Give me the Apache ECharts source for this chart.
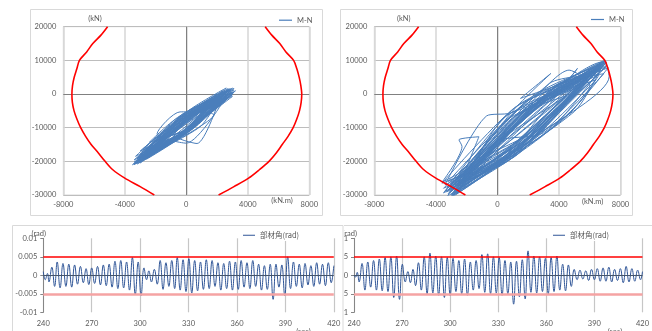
<!DOCTYPE html>
<html><head><meta charset="utf-8">
<script src="https://cdn.jsdelivr.net/npm/echarts@6/dist/echarts.min.js"></script>
<style>
html,body{margin:0;padding:0;background:#fff;width:652px;height:331px;overflow:hidden}
#main,#br{position:absolute;left:0;top:0;width:652px;height:331px}
#br{clip-path:inset(0 0 0 344px)}
</style></head>
<body><div id="main"></div><div id="br"></div>
<script>
// ---------- M-N interaction curve (same in both M-N charts) ----------
const curveN      = [20000,17500,15000,12500,10000,7500,5000,2500,0,-2500,-5000,-7500,-10000,-12500,-15000,-17500,-20000,-22500,-25000,-27500,-30000];
const curveLeftM  = [-5120,-5550,-6080,-6480,-6950,-7120,-7290,-7400,-7440,-7410,-7300,-7110,-6870,-6560,-6190,-5720,-5280,-4780,-4000,-3000,-2080];
const curveRightM = [5130,5560,6080,6480,6980,7190,7340,7450,7510,7470,7360,7180,6950,6630,6240,5850,5380,4750,4050,3100,2100];

// ---------- M-N hysteresis, left chart (kN.m / kN) ----------
const mnLeftM = [0,
  2000,400,-2400,-200,  2800,0,-3000,400,  3100,1000,-3400,-600,  2400,-200,-2000,200,
  2600,600,-3200,-400,  1800,-600,-2800,0,  3000,800,-3500,-800,  2200,200,-2600,-300,
  2800,400,-3000,600,  1600,-400,-2200,100,  3200,1200,-3300,-500,  2500,300,-2900,-100,
  2000,-300,-1900,300,  2900,700,-3100,-700,  2300,100,-2700,200,  2700,500,-3400,-200,
  1400,-800,-2400,0,  3000,1400,-3200,-400,  2600,-100,-2500,700,  2100,300,-3000,-900,
  2900,900,-2000,-100,  1800,-500,-3300,400,  3100,1100,-2800,-300,  2400,0,-2300,-600,
  1800,-400,-1900,0,  2600,900,-800,700,  2200,900,-2600,-1200,  2700,600,-3100,-200,
  2000,-200,-2600,500,  3000,1300,-3400,-700,  2300,400,-2100,-300,  2800,100,-2900,300,
  1700,-700,-3200,-500,  3100,1000,-2500,100,  2500,200,-3000,-800,  2900,800,-2700,400,
  2100,-100,-3300,-400,  2600,600,-2300,200,  3000,1100,-3100,-600,  2400,0,-2800,0,
  2700,500,-3200,-300,  2200,-300,-2500,300,  3000,1000,-3000,-600,  1900,100,-2200,0,
  2800,700,-3400,-200,  2500,300,-2700,0];
const mnLeftN = [-8800,
  -1400,-5500,-17900,-11700,  -760,-6200,-17800,-10100,  1700,-4000,-20800,-13200,  900,-6500,-13900,-10100,
  -1700,-5800,-20800,-12700,  -1400,-7600,-16200,-11200,  500,-4400,-21000,-13400,  -3300,-6900,-19400,-12600,
  1300,-4700,-16900,-9400,  -1700,-6500,-16900,-10700,  960,-4000,-20700,-12500,  650,-5600,-17200,-11700,
  -3400,-7400,-12900,-10400,  1200,-4900,-20500,-13300,  -2000,-5900,-17200,-10900,  1600,-4700,-19600,-12000,
  -2800,-7800,-14300,-10600,  -700,-3900,-19200,-12900,  1800,-5800,-18900,-9300,  -1700,-6300,-20500,-13600,
  500,-3900,-16200,-11400,  -3500,-7600,-18500,-9900,  1300,-4000,-19000,-12400,  -1900,-6800,-15400,-13600,
  -6200,-5300,-11800,-14600,  -800,-6000,-12200,-14700,  -1000,-9700,-18500,-14600,  -1300,-5300,-19700,-11200,
  -200,-6200,-16400,-9800,  1800,-3000,-21000,-12900,  -2600,-6600,-17500,-11900,  0,-6400,-18800,-10200,
  -1500,-7400,-20100,-12800,  500,-4600,-17600,-10900,  -1200,-6100,-19300,-13000,  1500,-4200,-16800,-10300,
  -2400,-7000,-20300,-12300,  700,-5000,-17800,-10500,  -200,-4800,-18600,-12600,  1000,-6000,-19800,-9500,
  1100,-5000,-19000,-12000,  -600,-6400,-18800,-10800,  300,-4900,-20000,-13100,  -2500,-7200,-15600,-11800,
  1600,-4500,-20300,-11000,  -2200,-6800,-18000,-8800];

// ---------- M-N hysteresis, right chart (kN.m / kN) ----------
const mnRightM = [0,
  4500,1000,-2000,1500,  5500,1500,-2800,500,  6200,2500,-3200,300,  6800,3000,-3000,1200,  6500,2000,-2500,0,
  5000,800,-700,-3400,1500,  7000,3500,-2700,800,
  6000,1500,3470,1000,-2200,-1200,-2500,-2300,-3600,2000,
  6700,2800,-3000,1200,  5800,2000,-2400,0,3800,  6000,4660,2200,-3300,1800,  7100,3200,-2800,500,
  5200,4400,1000,-3600,1200,  6400,2500,-2100,800,  5600,1800,-2600,2500,  7260,6900,3000,-3100,1500,
  6600,3500,-2500,600,  5900,2000,-2900,2200,  6300,3000,-1800,0,  6800,3600,-2800,900,
  6100,2600,-3200,1400,  7000,3300,-2600,700,  5700,2200,-3500,1700,  6900,3100,-2300,300,
  5300,1600,-3000,2400,  7050,3400,-2700,1000,  6300,2700,-3300,1900,  6600,3000,-2400,500,
  5500,1800,-3100,1300,  6800,3200,-2900,2100,  6200,2400,-2600,800,  5900,2000,-3400,1600,
  7100,3500,-2200,0,  4800,500,-1500,1800,  6500,2800,-3200,1000,  7000,3800,-2800,1400,
  5400,1200,-2500,2600,  6700,3300,-3000,0,
  3000,6900,3800,-3000,  4200,7200,2900,-2600,  5000,6800,1200,-3500,  2500,6400,500,-2300,
  3600,7000,2300,-3200,  4500,6600,3400,-2900,  0];
const mnRightN = [-14000,
  -500,-7000,-23000,-13500,  3000,-4000,-26500,-17500,  5500,-2000,-28500,-20000,  9000,300,-30000,-16000,  7000,-4500,-25000,-19500,
  2000,-5700,-6500,-27000,-14500,  10100,1000,-29800,-18500,
  6000,-1300,6100,-5000,-24000,-12700,-13600,-15600,-26200,-12000,
  8000,-1500,-28000,-17600,  4500,-3500,-24500,-21600,-9200,  2500,7100,-2500,-30500,-15000,  8500,-500,-27000,-18500,
  7600,3500,-4500,-26500,-16500,  6500,-3000,-23000,-14000,  4000,-5000,-28500,-12500,  5150,9600,-1500,-29000,-15800,
  8800,0,-26000,-19000,  5800,-6000,-30200,-13800,  7200,-2500,-21000,-15500,  9400,1500,-28800,-18000,
  6400,-4000,-29600,-13500,  9800,-800,-27200,-16500,  4800,-3500,-28000,-15500,  9000,-2000,-25000,-19000,
  3400,-5500,-30400,-11500,  8000,1000,-28300,-17200,  6900,-2500,-29100,-14500,  7800,-3500,-26400,-17000,
  3900,-2500,-27500,-18000,  8700,-1000,-29300,-13000,  6200,-5000,-26700,-19500,  5200,-2000,-28900,-15000,
  9500,500,-24600,-17000,  1500,-8000,-19500,-12500,  5500,-3000,-27800,-16000,  8900,-500,-29500,-17500,
  2200,-6500,-25800,-11000,  9200,-1500,-26800,-14000,
  -11500,6000,2500,-30800,  -7800,7800,-1200,-29000,  -5200,8200,-3800,-29400,  -13000,4200,-6800,-27500,
  -9800,9200,-600,-26000,  -6500,5600,3200,-27200,  -14000];

// ---------- 部材角 time histories (sec / rad) ----------
const thLeftT = [240.0,241.2,242.6,243.5,245.3,247.0,248.6,250.4,252.2,254.0,255.8,257.6,259.4,261.2,263.0,264.8,266.5,268.2,270.0,271.8,273.6,275.4,277.2,279.0,280.8,282.6,284.4,286.2,288.0,289.8,291.6,293.4,295.2,297.0,298.8,300.6,302.4,304.0,305.4,307.0,308.8,310.6,312.4,314.2,316.0,317.8,319.6,321.4,323.0,324.8,326.6,328.4,330.2,332.0,333.8,335.6,337.4,339.2,341.0,342.8,344.6,346.4,348.2,350.0,351.8,353.6,355.4,357.2,359.0,360.8,362.6,364.4,366.2,368.0,369.8,371.6,373.4,375.2,377.0,378.8,380.6,382.4,384.2,386.0,387.8,389.6,391.4,393.2,395.0,396.8,398.6,400.4,402.2,404.0,405.8,407.6,409.4,411.2,413.0,414.8,416.6,418.4,420.0];
const thLeftV = [0.0010,-0.0012,0.0005,-0.0018,0.0022,-0.0030,0.0036,-0.0034,0.0032,-0.0030,0.0030,-0.0032,0.0028,-0.0024,0.0024,-0.0020,0.0018,-0.0025,0.0020,-0.0022,0.0024,-0.0026,0.0028,-0.0028,0.0030,-0.0032,0.0038,-0.0036,0.0040,-0.0034,0.0036,-0.0040,0.0048,-0.0052,0.0036,-0.0055,0.0020,-0.0012,0.0012,-0.0018,0.0016,-0.0024,0.0040,-0.0038,0.0034,-0.0030,0.0040,-0.0036,0.0048,-0.0040,0.0042,-0.0044,0.0045,-0.0048,0.0040,-0.0042,0.0036,-0.0038,0.0042,-0.0036,0.0040,-0.0030,0.0034,-0.0040,0.0032,-0.0036,0.0038,-0.0040,0.0036,-0.0038,0.0040,-0.0032,0.0034,-0.0036,0.0040,-0.0030,0.0030,-0.0040,0.0026,-0.0038,0.0030,-0.0065,0.0030,-0.0032,0.0028,-0.0055,0.0050,-0.0036,0.0036,-0.0030,0.0030,-0.0034,0.0032,-0.0026,0.0026,-0.0030,0.0034,-0.0024,0.0030,-0.0028,0.0034,-0.0020,0.0026];
const thRightT = [240.0,241.0,242.0,243.2,245.0,246.8,248.6,250.4,252.2,254.0,255.8,257.6,259.4,261.2,263.0,264.8,266.6,268.4,270.2,272.0,273.6,275.2,276.8,278.4,280.2,282.0,283.8,285.6,287.4,289.2,291.0,292.8,294.6,296.4,298.2,300.0,301.8,303.6,305.4,307.2,309.0,310.8,312.6,314.4,316.2,318.0,319.8,321.6,323.4,325.2,327.0,328.8,330.6,332.4,334.2,336.0,337.8,339.6,341.4,343.2,345.0,346.8,348.6,350.4,352.2,354.0,355.8,357.6,359.4,361.2,363.0,364.8,366.6,368.4,370.2,372.0,373.8,375.6,377.4,379.2,381.0,382.8,384.6,386.4,388.2,390.0,391.8,393.6,395.4,397.2,399.0,400.8,402.6,404.4,406.2,408.0,409.8,411.6,413.4,415.2,417.0,418.8,420.0];
const thRightV = [0.0000,-0.0005,0.0008,-0.0018,0.0032,-0.0040,0.0036,-0.0032,0.0040,-0.0040,0.0044,-0.0042,0.0048,-0.0044,0.0050,-0.0060,0.0052,-0.0065,0.0030,-0.0018,0.0010,-0.0020,0.0016,-0.0028,0.0034,-0.0040,0.0050,-0.0050,0.0060,-0.0048,0.0052,-0.0054,0.0050,-0.0060,0.0048,-0.0055,0.0046,-0.0044,0.0040,-0.0050,0.0044,-0.0054,0.0036,-0.0040,0.0040,-0.0036,0.0056,-0.0046,0.0058,-0.0050,0.0050,-0.0048,0.0048,-0.0054,0.0040,-0.0050,0.0036,-0.0078,0.0038,-0.0058,0.0042,-0.0064,0.0066,-0.0046,0.0052,-0.0048,0.0050,-0.0044,0.0046,-0.0050,0.0048,-0.0044,0.0052,-0.0040,0.0030,-0.0042,0.0028,-0.0030,0.0016,-0.0012,0.0014,-0.0010,0.0012,-0.0014,0.0016,-0.0012,0.0018,-0.0016,0.0020,-0.0016,0.0022,-0.0018,0.0016,-0.0014,0.0018,-0.0020,0.0024,-0.0018,0.0018,-0.0016,0.0014,-0.0012,0.0010];
const rotationLimits = [0.005, -0.005];

// ---------- axis scales ----------
const mScale = {min:-8000, max:8000, interval:4000};
const nScale = {min:-30000, max:20000, interval:10000};
const tScale = {min:240, max:420, interval:30};
const rScale = {min:-0.01, max:0.01, interval:0.005};

const FONT = 'Lato';
const TXT = '#595959';
const zip = (a,b) => a.map((v,i)=>[v,b[i]]);
const plain = v => String(+v.toFixed(6));
const lbl = (extra) => Object.assign({fontSize:7.5, color:TXT, fontFamily:FONT, formatter:plain}, extra||{});
const txt = (t,x,y,align,size,family) => ({type:'text', silent:true, z:10, style:{text:t, x:x, y:y, fill:TXT, font:(size||7.5)+'px '+(family||FONT), align:align||'center', verticalAlign:'middle'}});
const frame = (x,y,w,h) => ({type:'rect', silent:true, z:0, shape:{x:x,y:y,width:w,height:h}, style:{fill:'none', stroke:'#D9D9D9', lineWidth:1}});

function mnX(gi){ return Object.assign({gridIndex:gi, type:'value', axisLine:{show:false}, axisTick:{show:false}, axisLabel:lbl({margin:6}), splitLine:{show:true, lineStyle:{color:'#D6D6D6', width:1.5}}}, mScale); }
function mnY(gi){ return Object.assign({gridIndex:gi, type:'value', axisLine:{show:false}, axisTick:{show:false}, axisLabel:lbl({margin:7}), splitLine:{show:true, lineStyle:{color:'#BDBDBD', width:1}}}, nScale); }
function thX(gi){ return Object.assign({gridIndex:gi, type:'value', axisLine:{show:false}, axisTick:{show:false}, axisLabel:lbl({margin:7}), splitLine:{show:true, lineStyle:{color:'#C6C6C6', width:1.2}}}, tScale); }
function thY(gi){ return Object.assign({gridIndex:gi, type:'value', axisLine:{show:true, onZero:false, lineStyle:{color:'#868686', width:1}}, axisTick:{show:true, length:3, lineStyle:{color:'#868686'}}, axisLabel:lbl({margin:6}), splitLine:{show:false}}, rScale); }

const MN_BLUE = '#4A7EBB';
const TH_BLUE = '#2F5597';

function mnSeries(gi, M, N){
  return [
    {type:'line', xAxisIndex:gi, yAxisIndex:gi, data:[], silent:true,
     markLine:{silent:true, z:1, precision:6, symbol:['none','none'], label:{show:false}, animation:false,
       lineStyle:{color:'#808080', width:1, type:'solid'}, data:[{xAxis:0},{yAxis:0}]}},
    {name:'M-N', type:'line', xAxisIndex:gi, yAxisIndex:gi, data:zip(M,N), symbol:'none', smooth:0.25, z:2,
     itemStyle:{color:MN_BLUE}, lineStyle:{color:MN_BLUE, width:1}},
    {type:'line', xAxisIndex:gi, yAxisIndex:gi, data:zip(curveLeftM,curveN), symbol:'none', smooth:0.3, z:3, silent:true,
     lineStyle:{color:'#FF0000', width:1.6}},
    {type:'line', xAxisIndex:gi, yAxisIndex:gi, data:zip(curveRightM,curveN), symbol:'none', smooth:0.3, z:3, silent:true,
     lineStyle:{color:'#FF0000', width:1.6}}
  ];
}
function thSeries(gi, T, V){
  return [
    {name:'部材角(rad)', type:'line', xAxisIndex:gi, yAxisIndex:gi, data:zip(T,V), symbol:'none', smooth:0.45, z:2,
     itemStyle:{color:TH_BLUE}, lineStyle:{color:TH_BLUE, width:1},
     markLine:{silent:true, precision:6, symbol:['none','none'], label:{show:false}, animation:false,
       data:[
         {yAxis:0, lineStyle:{color:'#44546A', width:1, type:'solid'}},
         {yAxis:rotationLimits[0], lineStyle:{color:'#FF0000', width:1.5, type:'solid'}},
         {yAxis:rotationLimits[1], lineStyle:{color:'#F5A3A3', width:2.5, type:'solid'}}
       ]}}
  ];
}
const legendTH = (left) => ({data:['部材角(rad)'], left:left, top:229.5, padding:[2,4,2,4], backgroundColor:'#ffffff',
  icon:'rect', itemWidth:12, itemHeight:1, textStyle:{fontSize:7.5, color:TXT, fontFamily:'Noto Sans CJK JP'}});
const legendMN = (left, top) => ({data:['M-N'], left:left, top:top, padding:0, icon:'rect', itemWidth:13, itemHeight:1.2,
  textStyle:{fontSize:7.5, color:TXT, fontFamily:FONT}});

const main = echarts.init(document.getElementById('main'), null, {renderer:'canvas'});
main.setOption({
  animation:false,
  grid:[
    {left:63.3, top:26.7, width:246, height:168.3, show:true, borderColor:'#D9D9D9', borderWidth:1},
    {left:374.3, top:26.7, width:246.2, height:168.3, show:true, borderColor:'#D9D9D9', borderWidth:1},
    {left:43.3, top:238.3, width:290.5, height:74}
  ],
  xAxis:[mnX(0), mnX(1), thX(2)],
  yAxis:[mnY(0), mnY(1), thY(2)],
  legend:[legendMN(279,16.2), legendMN(591,15.5), legendTH(239)],
  graphic:[
    frame(30.5,9.5,292,206), frame(340.5,9.5,292,206), frame(12.5,225.5,330.5,130),
    txt('(kN)',95,19), txt('(kN)',403.7,19),
    txt('(kN.m)',282,201), txt('(kN.m)',592.7,201.5),
    txt('(rad)',31.5,234,'left'), txt('(sec)',303.5,332)
  ],
  series:[].concat(mnSeries(0,mnLeftM,mnLeftN), mnSeries(1,mnRightM,mnRightN), thSeries(2,thLeftT,thLeftV))
});

const br = echarts.init(document.getElementById('br'), null, {renderer:'canvas'});
br.setOption({
  animation:false,
  grid:[{left:354, top:238.3, width:291, height:74}],
  xAxis:[thX(0)], yAxis:[thY(0)],
  legend:[legendTH(549)],
  graphic:[frame(343.5,225.5,400,130), txt('(rad)',342.4,234,'left'), txt('(sec)',615,332)],
  series:thSeries(0,thRightT,thRightV)
});
</script>
</body></html>
